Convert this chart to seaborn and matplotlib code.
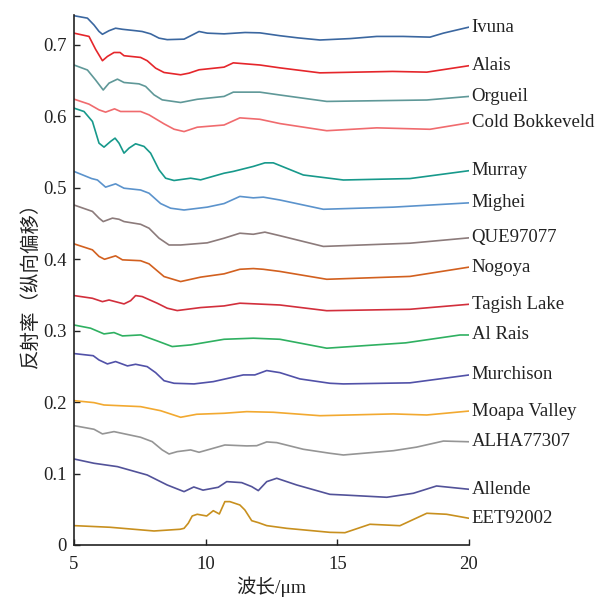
import matplotlib
matplotlib.use("Agg")
import matplotlib.pyplot as plt
import seaborn as sns

# spectra (wavelength in um, offset reflectance)
names = ["Ivuna", "Alais", "Orgueil", "Cold Bokkeveld", "Murray", "Mighei",
         "QUE97077", "Nogoya", "Tagish Lake", "Al Rais", "Murchison",
         "Moapa Valley", "ALHA77307", "Allende", "EET92002"]
colors = ["#3b67a0", "#e5262b", "#5f9898", "#f06b6e", "#17998b", "#5b93cc",
          "#8c7b7b", "#d2601f", "#d22f3c", "#2fb061", "#5151a8",
          "#f2a930", "#959595", "#525299", "#c8901f"]

ivuna_x = [5.0, 5.51, 5.76, 5.95, 6.08, 6.33, 6.58, 6.84, 7.34, 7.59, 7.91, 8.23, 8.54, 9.18, 9.49, 9.75, 10.06, 10.7, 11.5, 12.06, 12.82, 13.5, 14.34, 15.5, 16.5, 17.5, 18.52, 19.03, 20.0]
ivuna_y = [0.741, 0.7376, 0.728, 0.719, 0.715, 0.720, 0.7235, 0.722, 0.720, 0.7189, 0.7156, 0.7096, 0.7075, 0.7082, 0.714, 0.7189, 0.7166, 0.7156, 0.7175, 0.717, 0.713, 0.710, 0.707, 0.709, 0.712, 0.712, 0.711, 0.7166, 0.725]

alais_x = [5.0, 5.57, 5.82, 6.08, 6.27, 6.52, 6.75, 6.9, 7.53, 7.78, 8.1, 8.42, 9.05, 9.37, 9.75, 10.7, 11.05, 12.06, 12.82, 14.34, 17.1, 18.4, 20.0]
alais_y = [0.7166, 0.712, 0.694, 0.678, 0.684, 0.6895, 0.6895, 0.685, 0.6826, 0.678, 0.6676, 0.6615, 0.6583, 0.6606, 0.6653, 0.669, 0.675, 0.672, 0.668, 0.661, 0.663, 0.662, 0.671]

orgueil_x = [5.0, 5.51, 5.82, 6.11, 6.33, 6.65, 6.9, 7.47, 7.72, 8.04, 8.35, 9.05, 9.68, 10.7, 11.05, 12.06, 12.82, 14.6, 18.4, 20.0]
orgueil_y = [0.672, 0.665, 0.651, 0.637, 0.6466, 0.6522, 0.6475, 0.6456, 0.642, 0.6302, 0.6232, 0.6195, 0.624, 0.628, 0.634, 0.634, 0.630, 0.621, 0.623, 0.628]

coldbok_x = [5.0, 5.57, 5.95, 6.2, 6.54, 6.77, 7.53, 7.85, 8.42, 8.8, 9.18, 9.68, 10.7, 11.30, 12.06, 12.82, 14.6, 16.5, 18.52, 20.0]
coldbok_y = [0.6242, 0.6172, 0.6092, 0.606, 0.6106, 0.6069, 0.6069, 0.6022, 0.5896, 0.5821, 0.5788, 0.5849, 0.588, 0.598, 0.596, 0.590, 0.580, 0.584, 0.582, 0.591]

murray_x = [5.0, 5.38, 5.7, 5.95, 6.14, 6.39, 6.56, 6.71, 6.9, 7.09, 7.34, 7.66, 7.91, 8.23, 8.48, 8.8, 9.43, 9.81, 10.7, 11.05, 11.81, 12.25, 12.57, 13.71, 15.23, 17.76, 20.0]
murray_y = [0.6116, 0.6069, 0.593, 0.5626, 0.557, 0.565, 0.5696, 0.5626, 0.5486, 0.5556, 0.5617, 0.558, 0.5486, 0.5252, 0.5135, 0.5103, 0.5135, 0.5112, 0.5205, 0.523, 0.530, 0.535, 0.535, 0.518, 0.511, 0.513, 0.524]

mighei_x = [5.0, 5.67, 5.89, 6.2, 6.58, 6.9, 7.53, 7.85, 8.29, 8.67, 9.18, 10.06, 10.7, 11.30, 11.81, 12.19, 12.82, 14.47, 17.13, 20.0]
mighei_y = [0.523, 0.513, 0.511, 0.501, 0.5056, 0.4995, 0.497, 0.4925, 0.478, 0.4715, 0.469, 0.473, 0.478, 0.488, 0.486, 0.487, 0.483, 0.470, 0.473, 0.479]

que_x = [5.0, 5.7, 5.95, 6.11, 6.46, 6.71, 6.9, 7.53, 7.85, 8.23, 8.61, 9.05, 10.06, 10.7, 11.30, 11.81, 12.25, 12.82, 14.47, 17.76, 20.0]
que_y = [0.476, 0.467, 0.4576, 0.4528, 0.4576, 0.456, 0.4528, 0.449, 0.4435, 0.4295, 0.42, 0.42, 0.423, 0.4295, 0.4365, 0.435, 0.438, 0.433, 0.418, 0.4225, 0.430]

nogoya_x = [5.0, 5.7, 5.95, 6.16, 6.58, 6.84, 7.53, 7.85, 8.42, 9.05, 9.81, 10.7, 11.30, 11.81, 12.19, 12.82, 14.6, 17.76, 20.0]
nogoya_y = [0.4216, 0.4132, 0.404, 0.4, 0.4048, 0.3992, 0.398, 0.3936, 0.3758, 0.3688, 0.375, 0.3796, 0.386, 0.387, 0.386, 0.383, 0.372, 0.376, 0.389]

tagish_x = [5.0, 5.7, 6.08, 6.33, 6.9, 7.15, 7.34, 7.59, 8.16, 8.54, 8.92, 9.81, 10.7, 11.30, 12.82, 14.6, 17.76, 20.0]
tagish_y = [0.3492, 0.3454, 0.3407, 0.343, 0.3375, 0.342, 0.3492, 0.3478, 0.3385, 0.3315, 0.3282, 0.3324, 0.3347, 0.3385, 0.336, 0.328, 0.330, 0.337]

alrais_x = [5.0, 5.63, 6.14, 6.52, 6.84, 7.53, 8.16, 8.73, 9.43, 10.7, 11.81, 12.82, 14.6, 17.6, 19.66, 20.0]
alrais_y = [0.308, 0.3035, 0.2955, 0.2974, 0.2927, 0.2941, 0.2857, 0.2778, 0.2801, 0.288, 0.2895, 0.288, 0.2755, 0.283, 0.294, 0.294]

murch_x = [5.0, 5.73, 5.95, 6.27, 6.58, 7.03, 7.34, 7.78, 8.1, 8.42, 8.8, 9.56, 10.29, 11.43, 11.87, 12.32, 12.82, 13.58, 14.72, 15.23, 17.76, 20.0]
murch_y = [0.268, 0.265, 0.259, 0.2535, 0.2568, 0.2507, 0.253, 0.2497, 0.2413, 0.23, 0.2264, 0.2255, 0.2287, 0.2381, 0.2381, 0.2442, 0.2413, 0.2325, 0.2264, 0.2255, 0.227, 0.238]

moapa_x = [5.0, 5.76, 6.14, 7.53, 8.29, 9.05, 9.66, 10.7, 11.56, 12.57, 14.34, 17.13, 18.4, 20.0]
moapa_y = [0.2021, 0.1993, 0.196, 0.1937, 0.188, 0.1788, 0.183, 0.1844, 0.1867, 0.1858, 0.181, 0.1835, 0.182, 0.1875]

alha_x = [5.0, 5.76, 6.08, 6.52, 7.53, 7.97, 8.35, 8.61, 8.92, 9.43, 9.75, 10.29, 10.73, 11.56, 11.94, 12.32, 12.7, 13.71, 14.72, 15.23, 17.13, 18.01, 19.03, 20.0]
alha_y = [0.1671, 0.162, 0.1555, 0.1587, 0.1508, 0.1447, 0.1331, 0.1274, 0.1307, 0.1331, 0.1298, 0.1354, 0.14, 0.1387, 0.139, 0.1443, 0.1433, 0.134, 0.1284, 0.126, 0.132, 0.137, 0.1455, 0.1445]

allende_x = [5.0, 5.76, 6.65, 7.78, 8.54, 9.18, 9.55, 9.9, 10.48, 10.8, 11.37, 11.75, 12.0, 12.32, 12.7, 13.46, 14.72, 15.23, 16.88, 17.89, 18.77, 20.0]
allende_y = [0.1204, 0.1144, 0.1097, 0.098, 0.084, 0.0747, 0.0812, 0.0768, 0.0808, 0.0887, 0.0873, 0.0817, 0.0761, 0.0887, 0.0934, 0.084, 0.0709, 0.070, 0.0668, 0.0724, 0.0826, 0.078]

eet_x = [5.0, 6.37, 8.04, 9.03, 9.18, 9.34, 9.49, 9.68, 10.04, 10.29, 10.52, 10.73, 10.92, 11.3, 11.49, 11.75, 12.0, 12.32, 13.08, 14.72, 15.29, 16.24, 17.38, 18.4, 19.15, 20.0]
eet_y = [0.0271, 0.0248, 0.0196, 0.022, 0.0233, 0.0304, 0.0406, 0.043, 0.0406, 0.048, 0.0434, 0.0607, 0.0607, 0.056, 0.049, 0.034, 0.0313, 0.0271, 0.0233, 0.0177, 0.0172, 0.029, 0.027, 0.0444, 0.043, 0.0374]

spectra = [(ivuna_x, ivuna_y), (alais_x, alais_y), (orgueil_x, orgueil_y),
           (coldbok_x, coldbok_y), (murray_x, murray_y), (mighei_x, mighei_y),
           (que_x, que_y), (nogoya_x, nogoya_y), (tagish_x, tagish_y),
           (alrais_x, alrais_y), (murch_x, murch_y), (moapa_x, moapa_y),
           (alha_x, alha_y), (allende_x, allende_y), (eet_x, eet_y)]

sns.set_style("ticks")
plt.rcParams["font.family"] = ["Liberation Serif", "Noto Sans CJK SC"]

fig = plt.figure(figsize=(6.09, 6.0), dpi=100)
ax = fig.add_axes([0.1215, 0.0917, 0.6485, 0.8833])

for (xs, ys), name, c in zip(spectra, names, colors):
    sns.lineplot(x=xs, y=ys, color=c, lw=1.2, ax=ax, sort=False)
    ax.text(20.1, ys[-1], name, fontsize=13.5, va="center", ha="left", color="#222222")

ax.set_xlim(5, 20)
ax.set_ylim(0, 0.742)
ax.set_xticks([5, 10, 15, 20])
ax.set_yticks([0, 0.1, 0.2, 0.3, 0.4, 0.5, 0.6, 0.7])
ax.set_yticklabels(["0", "0.1", "0.2", "0.3", "0.4", "0.5", "0.6", "0.7"])
ax.tick_params(direction="in", labelsize=13.5, colors="#222222", length=4, width=1)
ax.tick_params(axis="x", pad=8)
ax.tick_params(axis="y", pad=5.5)
for s in ["top", "right"]:
    ax.spines[s].set_visible(False)
for s in ["left", "bottom"]:
    ax.spines[s].set_color("#222222")
    ax.spines[s].set_linewidth(1.2)

ax.set_xlabel("波长/μm", fontsize=14, color="#222222", labelpad=2)
ax.set_ylabel("反射率（纵向偏移）", fontsize=14, color="#222222", labelpad=2)

fig.savefig("out.png", dpi=100)
